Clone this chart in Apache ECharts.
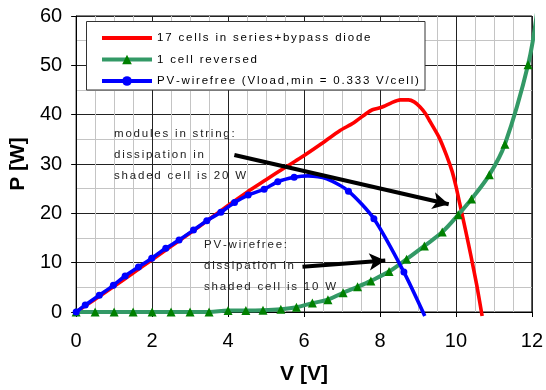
<!DOCTYPE html>
<html>
<head>
<meta charset="utf-8">
<script src="https://cdn.jsdelivr.net/npm/echarts@6/dist/echarts.min.js"></script>
<style>
  html, body { margin: 0; padding: 0; background: #fff; }
  #chart { width: 546px; height: 390px; }
</style>
</head>
<body>
<div id="chart"></div>
<script>
// ---- data (V [V], P [W]) ----
const seriesNames = ['17 cells in series+bypass diode', '1 cell reversed', 'PV-wirefree (Vload,min = 0.333 V/cell)'];

const redPoints = [
  [0, 0], [0.5, 2.6], [1, 5.2], [1.5, 7.9], [2, 10.6], [2.5, 13.3], [3, 16.0], [3.5, 18.8],
  [4, 21.6], [4.5, 24.3], [5, 26.8], [5.5, 29.3], [5.9, 31.2], [6.42, 33.9], [6.95, 36.8],
  [7.3, 38.3], [7.65, 40.3], [7.8, 41.0], [8.04, 41.5], [8.3, 42.4], [8.53, 43.0], [8.75, 43.0],
  [8.9, 42.6], [9.05, 41.6], [9.2, 40.2], [9.32, 38.6], [9.55, 35.5], [9.75, 31.8], [9.9, 28.5],
  [10.0, 25.5], [10.1, 22.0], [10.25, 16.7], [10.4, 11.2], [10.55, 5.4], [10.69, -0.8]
];

const greenPoints = [
  [0, 0], [0.5, 0], [1.0, 0], [1.5, 0], [2.0, 0], [2.5, 0], [3.0, 0], [3.5, 0],
  [4.0, 0.3], [4.47, 0.3], [4.92, 0.35], [5.39, 0.55], [5.8, 0.95], [6.22, 1.8], [6.63, 2.5],
  [7.03, 3.9], [7.41, 5.1], [7.76, 6.3], [8.24, 8.2], [8.7, 10.7], [9.17, 13.4], [9.64, 16.2],
  [10.06, 19.7], [10.41, 22.9], [10.88, 27.8], [11.29, 34.0], [11.9, 50.1]
];
const greenTail = [[12.15, 61.5]];   // line continues past the frame, no marker

const bluePoints = [
  [0, 0], [0.24, 1.4], [0.61, 3.4], [0.98, 5.4], [1.29, 7.3], [1.64, 9.1], [1.99, 10.9],
  [2.36, 12.9], [2.71, 14.6], [3.09, 16.6], [3.44, 18.5], [3.81, 20.2], [4.17, 22.2],
  [4.53, 23.7], [4.95, 24.9], [5.31, 26.4], [5.74, 27.3], [7.17, 24.5], [7.84, 18.9], [8.63, 8.1]
];
const blueLineOnly = [[6.1, 27.6], [6.6, 27.0], [9.18, -0.8]];  // curve points without markers

// annotation arrows (data coordinates: start -> end)
const arrow1 = [[4.166, 31.83], [9.81, 21.85]];
const arrow2 = [[5.96, 9.18], [8.14, 10.42]];
const note1 = ['modules in string:', 'dissipation in', 'shaded cell is 20 W'];
const note2 = ['PV-wirefree:', 'dissipation in', 'shaded cell is 10 W'];

// axes
const xMin = 0, xMax = 12, xStep = 2;
const yMin = 0, yMax = 60, yStep = 10;
const xTitle = 'V [V]', yTitle = 'P [W]';

// ---- letter-spaced text (legend + notes use this font name) ----
const spacedFont = 'Liberation Sans';
const LETTER_SPACING = 1.8;
(function () {
  const proto = CanvasRenderingContext2D.prototype;
  const origFill = proto.fillText;
  proto.fillText = function (text, x, y, maxWidth) {
    const align = this.textAlign;
    if (typeof text === 'string' && text.length > 1 && this.font.indexOf(spacedFont) >= 0 &&
        (align === 'left' || align === 'start')) {
      let cx = x;
      for (const ch of text) {
        origFill.call(this, ch, cx, y);
        cx += this.measureText(ch).width + LETTER_SPACING;
      }
      return;
    }
    return maxWidth === undefined ? origFill.call(this, text, x, y) : origFill.call(this, text, x, y, maxWidth);
  };
})();

// ---- build ----
function mergeSorted(marked, plain) {
  const all = marked.map(p => ({ value: p }))
    .concat(plain.map(p => ({ value: p, symbol: 'none' })));
  all.sort((a, b) => a.value[0] - b.value[0]);
  return all;
}

const chart = echarts.init(document.getElementById('chart'), null, { renderer: 'canvas' });

const axisLabelStyle = { color: '#000', fontFamily: 'Arial', fontSize: 20 };
const axisNameStyle = { color: '#000', fontFamily: 'Arial', fontSize: 21, fontWeight: 'bold' };

chart.setOption({
  animation: false,
  grid: { left: 76, top: 16, width: 456, height: 296, show: true, borderColor: '#000', borderWidth: 1, backgroundColor: 'transparent' },
  xAxis: {
    type: 'value', min: xMin, max: xMax, interval: xStep,
    name: xTitle, nameLocation: 'middle', nameGap: 52, nameTextStyle: axisNameStyle,
    axisLine: { show: true, lineStyle: { color: '#000', width: 1 } },
    axisTick: { show: true, inside: false, length: 5, lineStyle: { color: '#000' } },
    axisLabel: Object.assign({ margin: 19 }, axisLabelStyle),
    splitLine: { show: true, lineStyle: { color: '#222', width: 1 } },
    minorTick: { show: false, splitNumber: 4 },
    minorSplitLine: { show: true, lineStyle: { color: '#c4c4c4', width: 1 } }
  },
  yAxis: {
    type: 'value', min: yMin, max: yMax, interval: yStep,
    name: yTitle, nameLocation: 'middle', nameGap: 47, nameRotate: 90, nameTextStyle: axisNameStyle,
    axisLine: { show: true, lineStyle: { color: '#000', width: 1 } },
    axisTick: { show: true, inside: false, length: 5, lineStyle: { color: '#000' } },
    axisLabel: Object.assign({ margin: 14 }, axisLabelStyle),
    splitLine: { show: true, lineStyle: { color: '#222', width: 1 } },
    minorTick: { show: false, splitNumber: 2 },
    minorSplitLine: { show: true, lineStyle: { color: '#c4c4c4', width: 1 } }
  },
  legend: {
    orient: 'vertical', left: 95, top: 27,
    itemWidth: 50, itemHeight: 12, itemGap: 9.5,
    textStyle: { color: '#000', fontFamily: spacedFont, fontSize: 11.5 },
    lineStyle: { width: 4 },
    selectedMode: false,
    data: [
      { name: seriesNames[0], itemStyle: { opacity: 0 } },
      { name: seriesNames[1] },
      { name: seriesNames[2] }
    ]
  },
  graphic: [
    { type: 'rect', z: 3, shape: { x: 86.5, y: 21.5, width: 338.5, height: 68.5 },
      style: { fill: '#fff', stroke: '#333', lineWidth: 1 } },
    { type: 'text', z: 5, x: 114, y: 123.5,
      style: { text: note1.join('\n'), fill: '#222', fontFamily: spacedFont, fontSize: 11.5, lineHeight: 21, verticalAlign: 'top' } },
    { type: 'text', z: 5, x: 204, y: 234.5,
      style: { text: note2.join('\n'), fill: '#222', fontFamily: spacedFont, fontSize: 11.5, lineHeight: 21, verticalAlign: 'top' } }
  ],
  series: [
    {
      name: seriesNames[0], type: 'line', data: redPoints, symbol: 'none', smooth: 0.2, clip: false,
      lineStyle: { color: '#ff0000', width: 3.6 }, itemStyle: { color: '#ff0000' }, z: 2,
      emphasis: { disabled: true }
    },
    {
      name: seriesNames[1], type: 'line', data: mergeSorted(greenPoints, greenTail), smooth: 0.35, clip: false,
      symbol: 'triangle', symbolSize: 9, showAllSymbol: true,
      lineStyle: { color: '#339966', width: 4 }, itemStyle: { color: '#008000' }, z: 3,
      emphasis: { disabled: true }
    },
    {
      name: seriesNames[2], type: 'line', data: mergeSorted(bluePoints, blueLineOnly), smooth: 0.25, clip: false,
      symbol: 'circle', symbolSize: 7, showAllSymbol: true,
      lineStyle: { color: '#0000ff', width: 3.6 }, itemStyle: { color: '#0000ff' }, z: 4,
      emphasis: { disabled: true },
      markLine: {
        silent: true, symbol: ['none', 'arrow'], symbolSize: [13, 16], animation: false,
        label: { show: false }, emphasis: { disabled: true },
        lineStyle: { color: '#000', width: 4, type: 'solid' },
        data: [
          [{ coord: arrow1[0] }, { coord: arrow1[1] }],
          [{ coord: arrow2[0] }, { coord: arrow2[1] }]
        ]
      }
    }
  ]
});
</script>
</body>
</html>
